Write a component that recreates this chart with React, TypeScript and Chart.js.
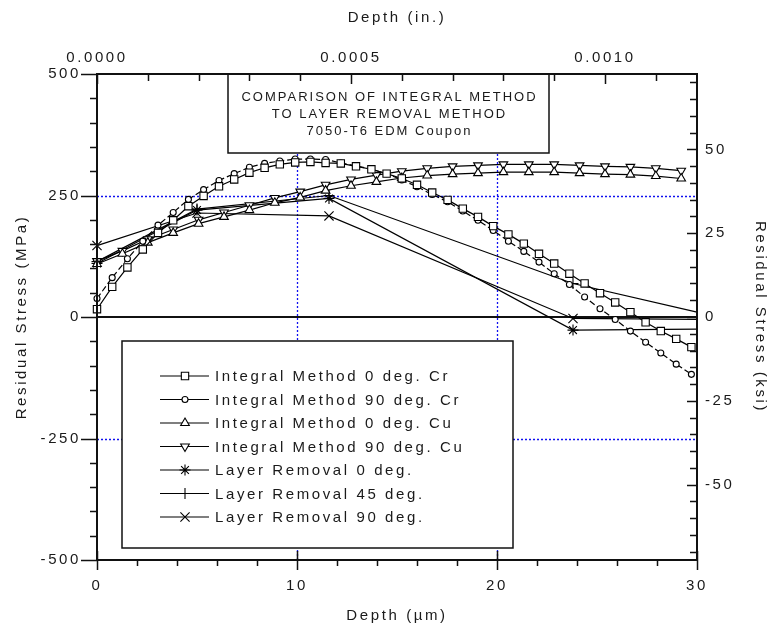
import React, { useEffect, useRef } from 'react';
import { Chart, registerables } from 'chart.js';
import { drawPoint } from 'chart.js/helpers';

Chart.register(...registerables);

// ---------- data (depth in micrometres, stress in MPa) ----------
const depthCr = [0, 0.76, 1.52, 2.29, 3.05, 3.81, 4.57, 5.33, 6.10, 6.86, 7.62, 8.38, 9.14, 9.91, 10.67, 11.43, 12.19, 12.95, 13.72, 14.48, 15.24, 16.00, 16.76, 17.53, 18.29, 19.05, 19.81, 20.57, 21.34, 22.10, 22.86, 23.62, 24.38, 25.15, 25.91, 26.67, 27.43, 28.19, 28.96, 29.72];
const integral0Cr = [16, 62, 102, 139, 173, 199, 228, 249, 269, 283, 297, 307, 314, 318, 319, 317, 316, 310, 304, 295, 285, 272, 256, 241, 223, 206, 187, 170, 151, 130, 110, 89, 69, 49, 30, 10, -11, -29, -45, -62];
const integral90Cr = [38, 81, 120, 156, 189, 215, 242, 262, 281, 295, 308, 316, 321, 325, 325, 324, 317, 311, 304, 295, 282, 268, 252, 237, 218, 199, 178, 156, 135, 113, 89, 67, 41, 17, -5, -29, -52, -74, -97, -118];

const depthCu = [0, 1.27, 2.54, 3.81, 5.08, 6.35, 7.62, 8.89, 10.16, 11.43, 12.70, 13.97, 15.24, 16.51, 17.78, 19.05, 20.32, 21.59, 22.86, 24.13, 25.40, 26.67, 27.94, 29.21];
const integral0Cu = [109, 130, 153, 173, 192, 206, 220, 235, 246, 260, 270, 278, 286, 291, 294, 296, 298, 298, 298, 296, 294, 293, 290, 285];
const integral90Cu = [115, 136, 160, 180, 200, 215, 230, 245, 258, 272, 283, 292, 300, 306, 310, 312, 314, 314, 314, 312, 310, 309, 306, 301];

const depthLayer = [0, 5.0, 11.6, 23.8, 30];
const layer0 = [110, 220, 244, -27, -25];
const layer45 = [114, 222, 250, 69, 10];
const layer90 = [147, 214, 208, -3, -5];
const layerMarkerShown = [1, 1, 1, 1, 0];

const labels = [
  'Integral Method 0 deg. Cr',
  'Integral Method 90 deg. Cr',
  'Integral Method 0 deg. Cu',
  'Integral Method 90 deg. Cu',
  'Layer Removal 0 deg.',
  'Layer Removal 45 deg.',
  'Layer Removal 90 deg.',
];

const bottomTicks = [0, 10, 20, 30];
const topTicks = [0, 0.0005, 0.001];
const leftTicks = [-500, -250, 0, 250, 500];
const rightTicks = [-50, -25, 0, 25, 50];
const gridDepths = [10, 20];
const gridStress = [-250, 250];

const titleLines = ['COMPARISON OF INTEGRAL METHOD', 'TO LAYER REMOVAL METHOD', '7050-T6 EDM Coupon'];

// ---------- constants ----------
const MPA_PER_KSI = 6.89476;
const UM_PER_IN = 25400;
const FONT = '"Liberation Sans", Arial, Helvetica, sans-serif';
const TEXT = '#1a1a1a';
const SPACING = 2.6;

const pts = (xs: number[], ys: number[]) => xs.map((x, i) => ({ x, y: ys[i] }));

const base = {
  showLine: true,
  borderColor: '#000',
  borderWidth: 1.2,
  pointBorderColor: '#000',
  pointBackgroundColor: '#fff',
  pointBorderWidth: 1.1,
  pointHoverRadius: 0,
  tension: 0,
  clip: false as any,
};

const decor = {
  id: 'decor',
  beforeDraw(chart: any) {
    const ctx = chart.ctx;
    ctx.save();
    ctx.fillStyle = '#fff';
    ctx.fillRect(0, 0, chart.width, chart.height);
    ctx.restore();
    ctx.letterSpacing = SPACING + 'px';
  },
  beforeDatasetsDraw(chart: any) {
    const { ctx, chartArea: a } = chart;
    const sx = chart.scales.x, sy = chart.scales.y;
    ctx.save();
    ctx.strokeStyle = '#1010f0';
    ctx.lineWidth = 1.3;
    ctx.setLineDash([2, 2]);
    ctx.beginPath();
    for (const v of gridDepths) {
      const px = Math.round(sx.getPixelForValue(v)) + 0.5;
      ctx.moveTo(px, a.top); ctx.lineTo(px, a.bottom);
    }
    for (const v of gridStress) {
      const py = Math.round(sy.getPixelForValue(v)) + 0.5;
      ctx.moveTo(a.left, py); ctx.lineTo(a.right, py);
    }
    ctx.stroke();
    ctx.setLineDash([]);
    ctx.strokeStyle = '#111';
    ctx.lineWidth = 2;
    ctx.beginPath();
    const z = Math.round(sy.getPixelForValue(0));
    ctx.moveTo(a.left, z); ctx.lineTo(a.right, z);
    ctx.stroke();
    ctx.restore();
  },
  afterDatasetsDraw(chart: any) {
    const { ctx, chartArea: a } = chart;
    const sx = chart.scales.x, sy = chart.scales.y, sx2 = chart.scales.x2, sy2 = chart.scales.y2;
    ctx.save();
    ctx.letterSpacing = SPACING + 'px';

    // title box
    const tb = { l: 228, t: a.top, r: 549, b: 153 };
    ctx.fillStyle = '#fff';
    ctx.fillRect(tb.l, tb.t, tb.r - tb.l, tb.b - tb.t);
    ctx.strokeStyle = '#111';
    ctx.lineWidth = 1.5;
    ctx.strokeRect(tb.l, tb.t, tb.r - tb.l, tb.b - tb.t);
    ctx.fillStyle = TEXT;
    ctx.font = '13px ' + FONT;
    ctx.letterSpacing = '2px';
    ctx.textAlign = 'center';
    ctx.textBaseline = 'middle';
    titleLines.forEach((t, i) => ctx.fillText(t, (tb.l + tb.r) / 2 + 1, 97 + i * 17));

    // legend box
    const lb = { l: 122, t: 341, r: 513, b: 548 };
    ctx.fillStyle = '#fff';
    ctx.fillRect(lb.l, lb.t, lb.r - lb.l, lb.b - lb.t);
    ctx.strokeStyle = '#111';
    ctx.lineWidth = 1.5;
    ctx.strokeRect(lb.l, lb.t, lb.r - lb.l, lb.b - lb.t);
    ctx.font = '15px ' + FONT;
    ctx.letterSpacing = SPACING + 'px';
    ctx.textAlign = 'left';
    chart.data.datasets.forEach((ds: any, i: number) => {
      const y = 376 + i * 23.5;
      ctx.strokeStyle = '#000';
      ctx.lineWidth = 1.2;
      ctx.beginPath();
      ctx.moveTo(160, y); ctx.lineTo(209, y);
      ctx.stroke();
      const r = Array.isArray(ds.pointRadius) ? ds.pointRadius[0] : ds.pointRadius;
      ctx.fillStyle = '#fff';
      ctx.lineWidth = 1.1;
      drawPoint(ctx, { pointStyle: ds.pointStyle, rotation: ds.pointRotation || 0, radius: r, borderWidth: 1.1 } as any, 185, y);
      ctx.fillStyle = TEXT;
      ctx.fillText(ds.label, 215, y + 1);
    });

    // frame
    ctx.strokeStyle = '#111';
    ctx.lineWidth = 2;
    ctx.strokeRect(a.left, a.top, a.right - a.left, a.bottom - a.top);

    // tick marks
    ctx.lineWidth = 1.5;
    ctx.beginPath();
    for (let v = 0; v <= 30.001; v += 2) {
      const px = Math.round(sx.getPixelForValue(v)) + 0.5;
      const major = Math.abs(v % 10) < 1e-6;
      ctx.moveTo(px, a.bottom + (major ? 10 : 6));
      ctx.lineTo(px, a.bottom - (major ? 9 : 0));
    }
    for (let k = 0; k <= 11; k++) {
      const px = Math.round(sx2.getPixelForValue(k * 0.0001)) + 0.5;
      const major = k % 5 === 0;
      ctx.moveTo(px, a.top);
      ctx.lineTo(px, a.top + (major ? 10 : 7));
    }
    for (let v = -500; v <= 500; v += 50) {
      const py = Math.round(sy.getPixelForValue(v)) + 0.5;
      const major = v % 250 === 0;
      ctx.moveTo(a.left - (major ? 16 : 7), py);
      ctx.lineTo(a.left, py);
    }
    for (let v = -70; v <= 70; v += 5) {
      const py = Math.round(sy2.getPixelForValue(v)) + 0.5;
      const major = v % 25 === 0;
      ctx.moveTo(a.right, py);
      ctx.lineTo(a.right - (major ? 10 : 7), py);
    }
    ctx.stroke();
    ctx.restore();
  },
};

const tickFont = { family: FONT, size: 15 };
const titleFont = { family: FONT, size: 15 };

export default function App() {
  const ref = useRef<HTMLCanvasElement>(null);
  useEffect(() => {
    document.body.style.margin = '0';
    const chart = new Chart(ref.current as HTMLCanvasElement, {
      type: 'scatter',
      data: {
        datasets: [
          { ...base, label: labels[0], data: pts(depthCr, integral0Cr), pointStyle: 'rect', pointRadius: 5.2 },
          { ...base, label: labels[1], data: pts(depthCr, integral90Cr), pointStyle: 'circle', pointRadius: 3, borderDash: [6, 3] },
          { ...base, label: labels[2], data: pts(depthCu, integral0Cu), pointStyle: 'triangle', pointRadius: 5 },
          { ...base, label: labels[3], data: pts(depthCu, integral90Cu), pointStyle: 'triangle', pointRotation: 180, pointRadius: 5 },
          { ...base, label: labels[4], data: pts(depthLayer, layer0), pointStyle: 'star', pointRadius: layerMarkerShown.map(m => m * 5.5) },
          { ...base, label: labels[5], data: pts(depthLayer, layer45), pointStyle: 'cross', pointRadius: layerMarkerShown.map(m => m * 5.5) },
          { ...base, label: labels[6], data: pts(depthLayer, layer90), pointStyle: 'crossRot', pointRadius: layerMarkerShown.map(m => m * 6.5) },
        ] as any,
      },
      options: {
        responsive: false,
        animation: false,
        devicePixelRatio: 1,
        layout: { padding: 0 },
        events: [],
        plugins: { legend: { display: false }, tooltip: { enabled: false }, title: { display: false } },
        scales: {
          x: {
            type: 'linear', position: 'bottom', min: 0, max: 30,
            afterBuildTicks: (s: any) => { s.ticks = bottomTicks.map(v => ({ value: v })); },
            afterFit: (s: any) => { s.height = 68; },
            grid: { display: false, drawTicks: false }, border: { display: false },
            ticks: { font: tickFont, color: TEXT, padding: 17, autoSkip: false, maxRotation: 0, callback: (v: any) => String(v) },
            title: { display: true, text: 'Depth (\u00b5m)', font: titleFont, color: TEXT, padding: { top: 0, bottom: 3 } },
          },
          x2: {
            type: 'linear', position: 'top', min: 0, max: 30 / UM_PER_IN,
            afterBuildTicks: (s: any) => { s.ticks = topTicks.map(v => ({ value: v })); },
            afterFit: (s: any) => { s.height = 74; },
            grid: { display: false, drawTicks: false }, border: { display: false },
            ticks: { font: tickFont, color: TEXT, padding: 7.5, autoSkip: false, maxRotation: 0, callback: (v: any) => Number(v).toFixed(4) },
            title: { display: true, text: 'Depth (in.)', font: titleFont, color: TEXT, padding: { top: 9, bottom: 0 } },
          },
          y: {
            type: 'linear', position: 'left', min: -500, max: 500,
            afterBuildTicks: (s: any) => { s.ticks = leftTicks.map(v => ({ value: v })); },
            afterFit: (s: any) => { s.width = 97; },
            grid: { display: false, drawTicks: false }, border: { display: false },
            ticks: { font: tickFont, color: TEXT, padding: 16, autoSkip: false, callback: (v: any) => String(v) },
            title: { display: true, text: 'Residual Stress (MPa)', font: titleFont, color: TEXT, padding: { top: 12.7, bottom: 0 } },
          },
          y2: {
            type: 'linear', position: 'right', min: -500 / MPA_PER_KSI, max: 500 / MPA_PER_KSI,
            afterBuildTicks: (s: any) => { s.ticks = rightTicks.map(v => ({ value: v })); },
            afterFit: (s: any) => { s.width = 74; },
            grid: { display: false, drawTicks: false }, border: { display: false },
            ticks: { font: tickFont, color: TEXT, padding: 8, autoSkip: false, callback: (v: any) => String(v) },
            title: { display: true, text: 'Residual Stress (ksi)', font: titleFont, color: TEXT, padding: { top: 2, bottom: 0 } },
          },
        },
      } as any,
      plugins: [decor],
    });
    return () => chart.destroy();
  }, []);
  return (
    <div style={{ position: 'absolute', left: 0, top: 0, width: 771, height: 628 }}>
      <canvas ref={ref} width={771} height={628} style={{ display: 'block', width: 771, height: 628 }} />
    </div>
  );
}
